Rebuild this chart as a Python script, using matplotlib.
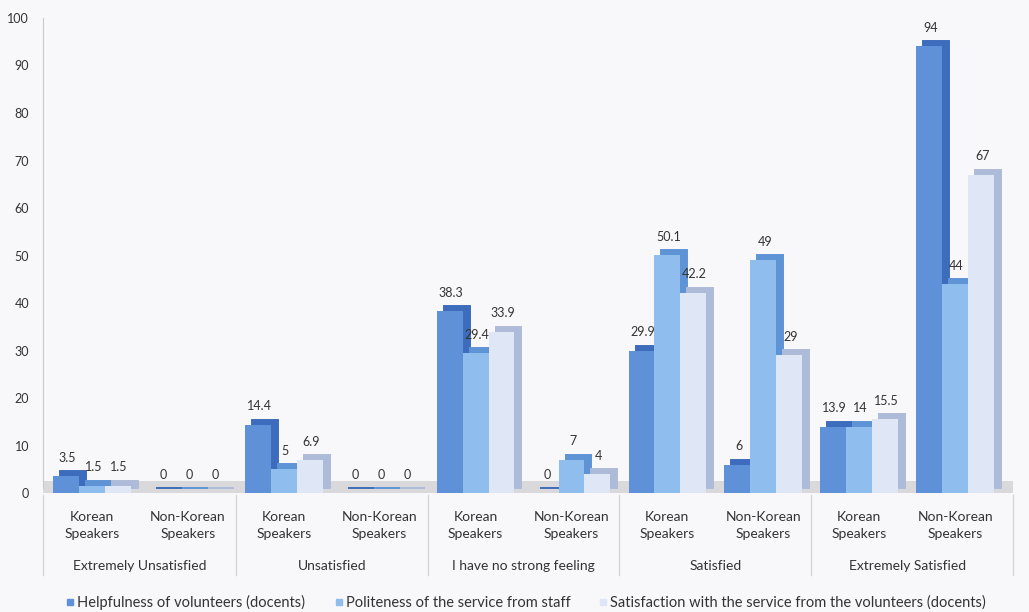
import matplotlib
matplotlib.use("Agg")
import matplotlib.pyplot as plt
import matplotlib.transforms as mtransforms
from matplotlib.patches import Rectangle
import numpy as np

plt.rcParams['font.family'] = ['Lato', 'DejaVu Sans']

categories = ["Extremely Unsatisfied", "Unsatisfied", "I have no strong feeling",
              "Satisfied", "Extremely Satisfied"]
speakers = ["Korean\nSpeakers", "Non-Korean\nSpeakers"]
series_names = ["Helpfulness of volunteers (docents)",
                "Politeness of the service from staff",
                "Satisfaction with the service from the volunteers (docents)"]
helpfulness = [3.5, 0, 14.4, 0, 38.3, 0, 29.9, 6, 13.9, 94]
politeness = [1.5, 0, 5, 0, 29.4, 7, 50.1, 49, 14, 44]
satisfaction = [1.5, 0, 6.9, 0, 33.9, 4, 42.2, 29, 15.5, 67]
labels_text = [
    ["3.5", "0", "14.4", "0", "38.3", "0", "29.9", "6", "13.9", "94"],
    ["1.5", "0", "5", "0", "29.4", "7", "50.1", "49", "14", "44"],
    ["1.5", "0", "6.9", "0", "33.9", "4", "42.2", "29", "15.5", "67"],
]
yticks = [0, 10, 20, 30, 40, 50, 60, 70, 80, 90, 100]

front_colors = ["#5f91d9", "#8fbdee", "#dfe7f6"]
depth_colors = ["#3e6cbc", "#5e94d6", "#aebbd8"]
text_color = "#333333"

fig = plt.figure(figsize=(10.29, 6.12), dpi=100, facecolor="#f8f8fa")
ax = fig.add_axes([0.0418, 0.1944, 0.9423, 0.7762])
ax.set_facecolor("#f8f8fa")

n = len(helpfulness)
x = np.arange(n)
w = 0.27
series = [helpfulness, politeness, satisfaction]

# floor
ax.axhspan(0, 2.6, color="#d9d9dc", zorder=1, lw=0)

offset = mtransforms.ScaledTranslation(7 / 100, 5 / 100, fig.dpi_scale_trans)
for i, vals in enumerate(series):
    xs = x + (i - 1) * w
    ax.bar(xs, vals, width=w, color=depth_colors[i], edgecolor=depth_colors[i],
           linewidth=1.4, transform=ax.transData + offset, zorder=2)
for i, vals in enumerate(series):
    xs = x + (i - 1) * w
    ax.bar(xs, vals, width=w, color=front_colors[i], linewidth=0, zorder=3)
    for xi, v, t in zip(xs, vals, labels_text[i]):
        ax.annotate(t, (xi, v), xytext=(1, 9), textcoords="offset points",
                    ha="center", va="bottom", fontsize=9, color=text_color, zorder=5)

ax.set_xlim(-0.51, 9.6)
ax.set_ylim(0, 100)
ax.set_yticks(yticks)
ax.set_yticklabels([str(t) for t in yticks], fontsize=9, color=text_color)
ax.tick_params(axis="y", length=0, pad=10)
ax.set_xticks([])
for s in ["top", "right", "bottom"]:
    ax.spines[s].set_visible(False)
ax.spines["left"].set_color("#c8cad2")
ax.spines["left"].set_bounds(1, 100)

trans = mtransforms.blended_transform_factory(ax.transData, ax.transAxes)
for xi in x:
    ax.text(xi, -0.068, speakers[xi % 2], transform=trans, ha="center", va="center",
            fontsize=10, color=text_color, linespacing=1.55)
for ci, cat in enumerate(categories):
    ax.text(2 * ci + 0.5, -0.153, cat, transform=trans, ha="center", va="center",
            fontsize=10, color=text_color)
for sx in [-0.51, 1.5, 3.5, 5.5, 7.5, 9.6]:
    ax.plot([sx, sx], [-0.005, -0.172], transform=trans, color="#d5d6dc",
            lw=1, clip_on=False)

# legend
leg_x = [0.065, 0.327, 0.583]
for lx, name, col in zip(leg_x, series_names, front_colors):
    fig.patches.append(Rectangle((lx, 0.0108), 0.0058, 0.0098, transform=fig.transFigure,
                                 color=col, figure=fig))
    fig.text(lx + 0.0095, 0.0155, name, fontsize=10.5, color=text_color, va="center")

fig.savefig("out.png", dpi=100, facecolor=fig.get_facecolor())
